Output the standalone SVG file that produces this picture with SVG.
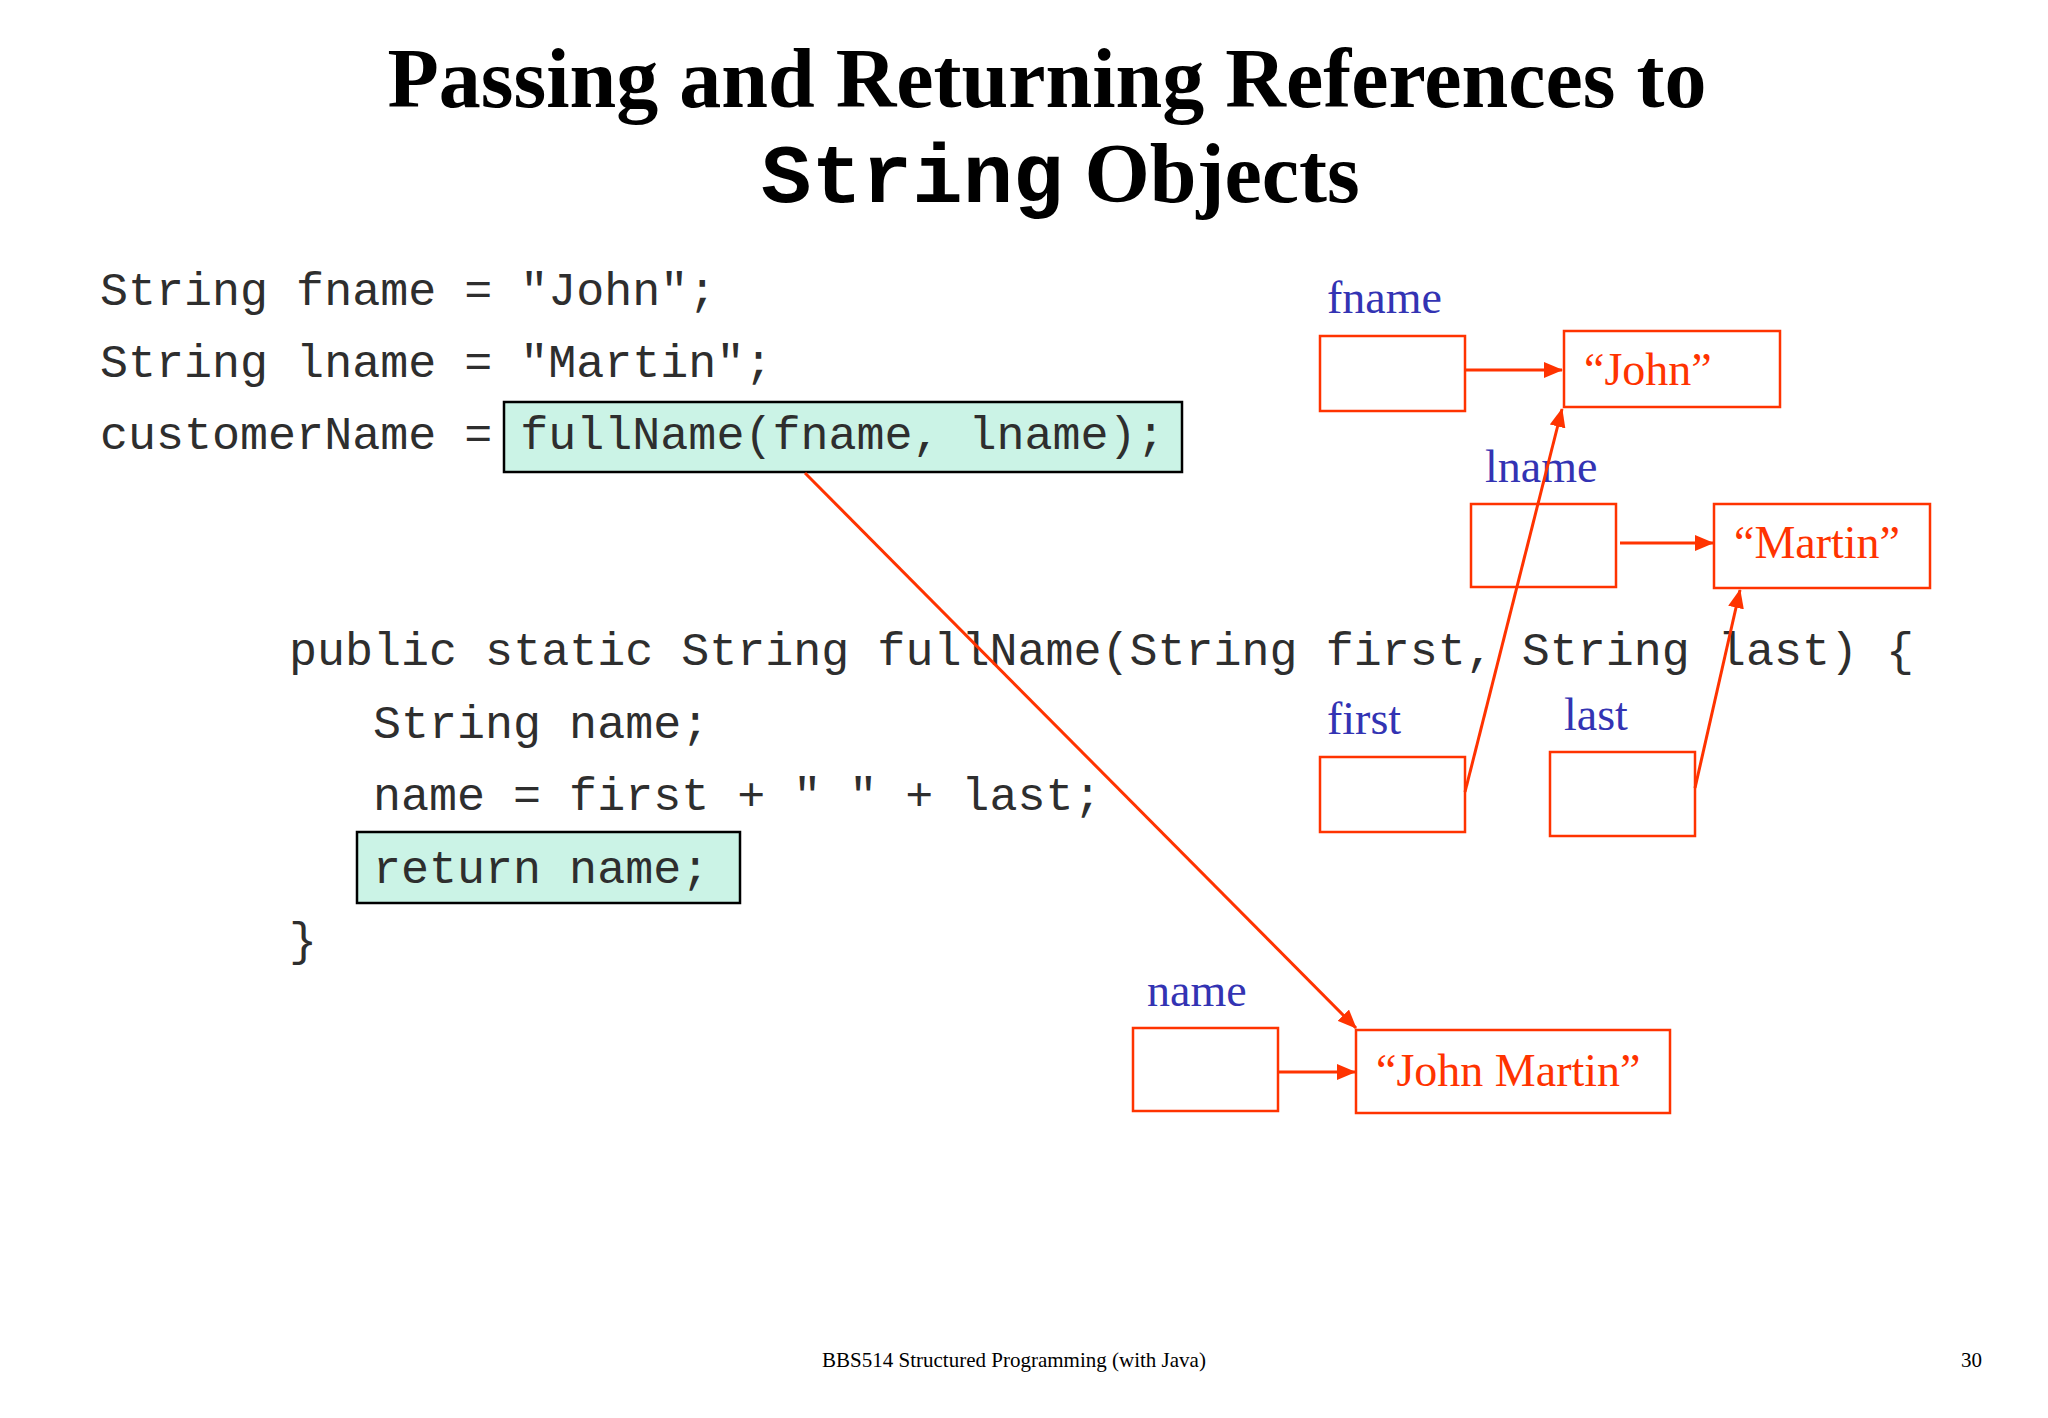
<svg xmlns="http://www.w3.org/2000/svg" width="2048" height="1418" viewBox="0 0 2048 1418">
<style>
.title{font-family:"Liberation Serif","Times New Roman",serif;font-weight:bold;font-size:84px;fill:#000}
.code{font-family:"Liberation Mono","Courier New",monospace;font-size:46.7px;fill:#2e2e2e;white-space:pre}
.hl{fill:#cbf3e6;stroke:#000;stroke-width:2.5}
.var{font-family:"Liberation Serif","Times New Roman",serif;font-size:46px;fill:#3333b3}
.box{fill:#fff;stroke:#ff3300;stroke-width:2.5}
.val{font-family:"Liberation Serif","Times New Roman",serif;font-size:46px;fill:#ff3300}
.conn{stroke:#ff3300;stroke-width:3;fill:none}
.foot{font-family:"Liberation Serif","Times New Roman",serif;font-size:21px;fill:#000}
</style>
<defs>
<marker id="ah" markerUnits="userSpaceOnUse" markerWidth="20" markerHeight="16" refX="18" refY="8" orient="auto">
<path d="M0,0 L19,8 L0,16 z" fill="#ff3300"/>
</marker>
</defs>
<rect width="2048" height="1418" fill="#fff"/>
<g id="title">
<text class="title" x="1047" y="107" text-anchor="middle">Passing and Returning References to</text>
<text class="title" x="761" y="202"><tspan font-family="'Liberation Mono','Courier New',monospace">String</tspan> Objects</text>
</g>
<g id="code-caller">
<rect class="hl" x="504" y="402" width="678" height="70"/>
<text class="code" x="100" y="305">String fname = "John";</text>
<text class="code" x="100" y="377">String lname = "Martin";</text>
<text class="code" x="100" y="449">customerName = fullName(fname, lname);</text>
</g>
<g id="code-method">
<rect class="hl" x="357" y="832" width="383" height="71"/>
<text class="code" x="289" y="665">public static String fullName(String first, String last) {</text>
<text class="code" x="373" y="738">String name;</text>
<text class="code" x="373" y="810">name = first + " " + last;</text>
<text class="code" x="373" y="883">return name;</text>
<text class="code" x="289" y="955">}</text>
</g>
<g id="var-fname">
<text class="var" x="1327" y="313">fname</text>
<rect class="box" x="1320" y="336" width="145" height="75"/>
</g>
<g id="str-john">
<rect class="box" x="1564" y="331" width="216" height="76"/>
<text class="val" x="1584" y="385">“John”</text>
</g>
<g id="var-lname">
<text class="var" x="1485" y="482">lname</text>
<rect class="box" x="1471" y="504" width="145" height="83"/>
</g>
<g id="str-martin">
<rect class="box" x="1714" y="504" width="216" height="84"/>
<text class="val" x="1734" y="558">“Martin”</text>
</g>
<g id="var-first">
<text class="var" x="1327" y="734">first</text>
<rect class="box" x="1320" y="757" width="145" height="75"/>
</g>
<g id="var-last">
<text class="var" x="1564" y="730">last</text>
<rect class="box" x="1550" y="752" width="145" height="84"/>
</g>
<g id="var-name">
<text class="var" x="1147" y="1006">name</text>
<rect class="box" x="1133" y="1028" width="145" height="83"/>
</g>
<g id="str-johnmartin">
<rect class="box" x="1356" y="1030" width="314" height="83"/>
<text class="val" x="1376" y="1086">“John Martin”</text>
</g>
<g id="connectors">
<line class="conn" x1="1465" y1="370" x2="1562" y2="370" marker-end="url(#ah)"/>
<line class="conn" x1="1620" y1="543" x2="1713" y2="543" marker-end="url(#ah)"/>
<line class="conn" x1="1465" y1="792" x2="1562" y2="409" marker-end="url(#ah)"/>
<line class="conn" x1="1695" y1="788" x2="1740" y2="590" marker-end="url(#ah)"/>
<line class="conn" x1="1278" y1="1072" x2="1355" y2="1072" marker-end="url(#ah)"/>
<line class="conn" stroke-width="2.2" x1="805" y1="473" x2="1356" y2="1028" marker-end="url(#ah)"/>
</g>
<g id="footer">
<text class="foot" x="1014" y="1367" text-anchor="middle">BBS514 Structured Programming (with Java)</text>
<text class="foot" x="1982" y="1367" text-anchor="end">30</text>
</g>
</svg>
